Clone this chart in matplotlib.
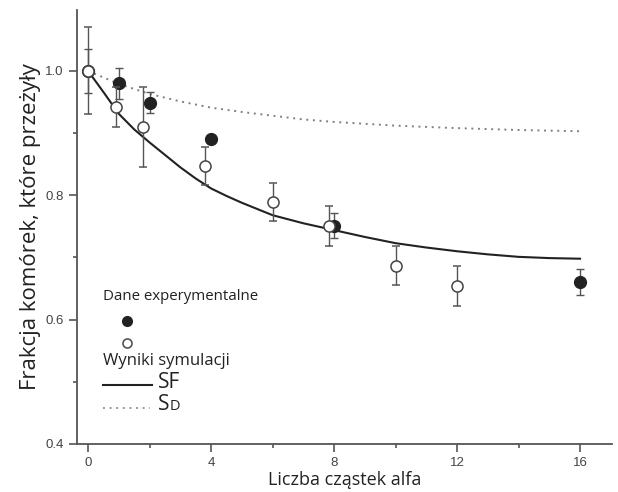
import matplotlib
matplotlib.use("Agg")
import matplotlib.pyplot as plt
from matplotlib.ticker import MultipleLocator, FormatStrFormatter

# experimental data (filled circles)
exp_x = [0, 1, 2, 4, 8, 16]
exp_y = [1.0, 0.98, 0.949, 0.891, 0.751, 0.661]
exp_err = [0.035, 0.025, 0.017, 0.0, 0.02, 0.021]

# simulation results (open circles)
sim_x = [0, 0.9, 1.8, 3.8, 6, 7.85, 10, 12]
sim_y = [1.0, 0.942, 0.910, 0.847, 0.789, 0.751, 0.687, 0.654]
sim_err = [0.07, 0.032, 0.064, 0.031, 0.031, 0.032, 0.032, 0.032]

# model curves
sf_x = [0, 0.5, 1, 1.5, 2, 2.5, 3, 3.5, 4, 4.5, 5, 5.5, 6, 7, 8, 9, 10,
        11, 12, 13, 14, 15, 16]
sf_y = [1.0, 0.966, 0.931, 0.906, 0.885, 0.865, 0.845, 0.827, 0.811, 0.799,
        0.788, 0.778, 0.768, 0.755, 0.744, 0.733, 0.723, 0.716, 0.710, 0.705,
        0.701, 0.699, 0.698]
sd_x = [0, 1, 2, 3, 4, 5, 6, 7, 8, 10, 12, 14, 16]
sd_y = [1.0, 0.979, 0.963, 0.951, 0.941, 0.934, 0.928, 0.922, 0.918,
        0.912, 0.908, 0.905, 0.903]

W, H = 618, 492
fig = plt.figure(figsize=(W / 100, H / 100), dpi=100)
ax = fig.add_axes([77 / W, 1 - 444 / H, (612 - 77) / W, (444 - 10) / H])

axis_col = "#555555"
ink = "#222222"
dots = (0, (1, 2.4))

ax.plot(sd_x, sd_y, linestyle=dots, color="#808080", lw=1.4, zorder=2)
ax.plot(sf_x, sf_y, color=ink, lw=1.5, zorder=2)

ax.errorbar(exp_x, exp_y, yerr=exp_err, fmt="o", ms=8.5, mfc=ink, mec=ink,
            ecolor=axis_col, elinewidth=1, capsize=3, zorder=3)
ax.errorbar(sim_x, sim_y, yerr=sim_err, fmt="o", ms=8, mfc="white", mec="#444444",
            mew=1.1, ecolor=axis_col, elinewidth=1, capsize=3, zorder=4)

ax.set_xlim(-0.36, 17.04)
ax.set_ylim(0.4, 1.098)
ax.xaxis.set_major_locator(MultipleLocator(4))
ax.xaxis.set_minor_locator(MultipleLocator(2))
ax.yaxis.set_major_locator(MultipleLocator(0.2))
ax.yaxis.set_minor_locator(MultipleLocator(0.1))
ax.yaxis.set_major_formatter(FormatStrFormatter("%.1f"))

for s in ["top", "right"]:
    ax.spines[s].set_visible(False)
for s in ["left", "bottom"]:
    ax.spines[s].set_color(axis_col)
    ax.spines[s].set_linewidth(1.3)

ax.tick_params(which="major", direction="out", length=6, width=1.2,
               colors=axis_col, labelsize=9.5, labelcolor="#444444")
ax.tick_params(which="minor", direction="out", length=3, width=1.2, colors=axis_col)
for lab in ax.get_xticklabels() + ax.get_yticklabels():
    lab.set_family("Liberation Sans")

ax.set_xlabel("Liczba cząstek alfa", fontsize=13, family="Open Sans",
              color=ink, labelpad=1)
ax.set_ylabel("Frakcja komórek, które przeżyły", fontsize=16, family="Open Sans",
              color=ink, labelpad=3)


def fx(px):
    return px / W


def fy(py):
    return 1 - py / H


# hand-drawn legend
fig.text(fx(103), fy(297), "Dane experymentalne", fontsize=10.8, family="Open Sans",
         color=ink, va="center")
fig.lines.append(plt.Line2D([fx(127)], [fy(321)], marker="o", ms=7, mfc=ink,
                            mec=ink, transform=fig.transFigure))
fig.lines.append(plt.Line2D([fx(127)], [fy(343)], marker="o", ms=6.5, mfc="white",
                            mec="#555555", mew=1.2, transform=fig.transFigure))
fig.text(fx(103), fy(361), "Wyniki symulacji", fontsize=12, family="Open Sans",
         color=ink, va="center")
fig.lines.append(plt.Line2D([fx(103), fx(152)], [fy(385), fy(385)], color=ink,
                            lw=1.5, transform=fig.transFigure))
fig.text(fx(158), fy(383), "SF", fontsize=15, family="Open Sans", color=ink,
         va="center")
fig.lines.append(plt.Line2D([fx(103), fx(150)], [fy(408), fy(408)], color="#9a9a9a",
                            lw=1.4, linestyle=dots, transform=fig.transFigure))
fig.text(fx(158), fy(404), "S", fontsize=15, family="Open Sans", color=ink,
         va="center")
fig.text(fx(170), fy(407), "D", fontsize=10.5, family="Open Sans", color=ink,
         va="center")

fig.savefig("out.png", dpi=100)
